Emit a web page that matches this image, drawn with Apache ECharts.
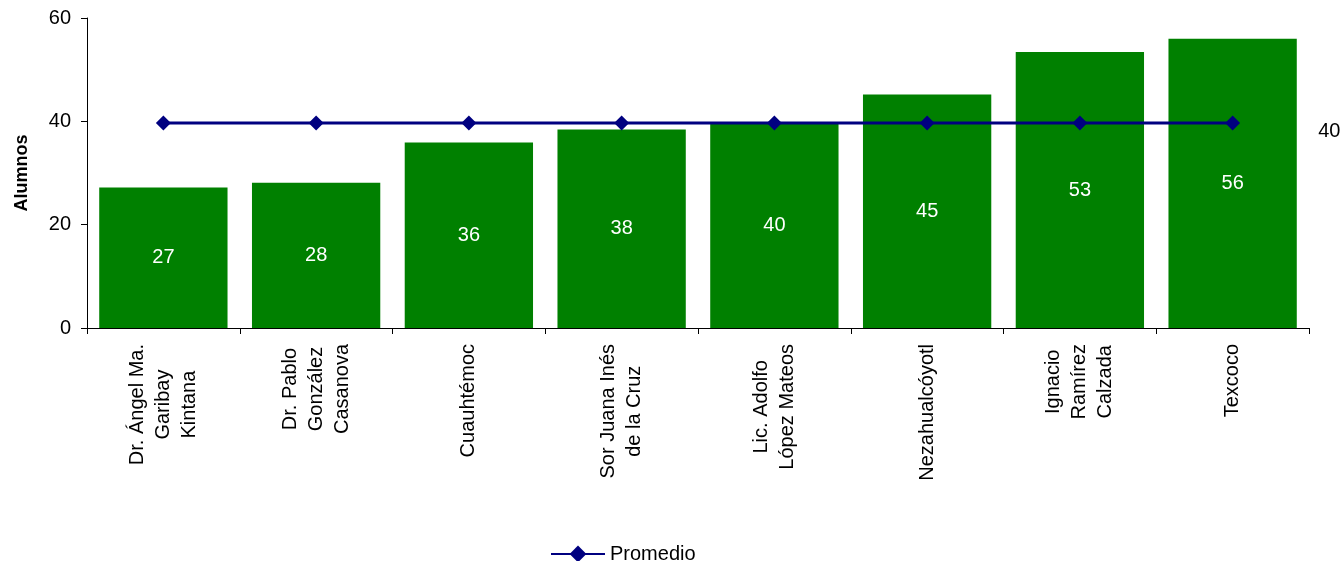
<!DOCTYPE html>
<html>
<head>
<meta charset="utf-8">
<script src="https://cdn.jsdelivr.net/npm/echarts@6/dist/echarts.min.js"></script>
<style>html,body{margin:0;padding:0;background:#fff;}#c{width:1344px;height:561px;}</style>
</head>
<body>
<div id="c"></div>
<script>
const categories = [
  "Dr. Ángel Ma.\nGaribay\nKintana",
  "Dr. Pablo\nGonzález\nCasanova",
  "Cuauhtémoc",
  "Sor Juana Inés\nde la Cruz",
  "Lic. Adolfo\nLópez Mateos",
  "Nezahualcóyotl",
  "Ignacio\nRamírez\nCalzada",
  "Texcoco"
];
const alumnos = [27.2, 28.1, 35.9, 38.4, 39.6, 45.2, 53.4, 56.0];
const promedio = [39.7, 39.7, 39.7, 39.7, 39.7, 39.7, 39.7, 39.7];
const yTicks = { min: 0, max: 60, interval: 20 };

const FONT = "Liberation Sans, Arial, sans-serif";
const chart = echarts.init(document.getElementById('c'));
chart.setOption({
  animation: false,
  backgroundColor: '#fff',
  textStyle: { fontFamily: FONT },
  grid: { left: 87, right: 35, top: 18, bottom: 233, containLabel: false },
  legend: {
    data: ['Promedio'],
    left: 545, top: 539,
    itemWidth: 54, itemHeight: 21,
    itemGap: 4,
    textStyle: { fontSize: 20, color: '#000', fontFamily: FONT }
  },
  xAxis: {
    type: 'category',
    data: categories,
    boundaryGap: true,
    axisLine: { lineStyle: { color: '#000', width: 1 } },
    axisTick: { show: true, length: 6, lineStyle: { color: '#000' } },
    axisLabel: {
      interval: 0,
      rotate: 90,
      margin: 16,
      color: '#000',
      formatter: function (v) { return v.split('\n').map(s => '{c|' + s + '}').join('\n'); },
      rich: { c: { align: 'center', fontSize: 20, lineHeight: 26, color: '#000', fontFamily: FONT } }
    }
  },
  yAxis: {
    type: 'value',
    min: yTicks.min, max: yTicks.max, interval: yTicks.interval,
    name: 'Alumnos',
    nameLocation: 'middle',
    nameRotate: 90,
    nameGap: 56,
    nameTextStyle: { fontSize: 18, fontWeight: 'bold', color: '#000', fontFamily: FONT },
    axisLine: { show: true, lineStyle: { color: '#000', width: 1 } },
    axisTick: { show: true, length: 6, lineStyle: { color: '#000' } },
    axisLabel: { margin: 16, fontSize: 20, color: '#000', fontFamily: FONT },
    splitLine: { show: false }
  },
  series: [
    {
      name: 'Alumnos',
      type: 'bar',
      data: alumnos,
      barCategoryGap: '16%',
      itemStyle: { color: '#008000' },
      label: {
        show: true, position: 'inside', color: '#fff', fontSize: 20, fontFamily: FONT,
        formatter: p => Math.round(p.value)
      }
    },
    {
      name: 'Promedio',
      type: 'line',
      data: promedio.map((v, i) => i === promedio.length - 1
        ? { value: v, label: { show: true, position: 'right', distance: 78, offset: [0, 9], color: '#000', fontSize: 20, fontFamily: FONT, formatter: p => Math.round(p.value) } }
        : v),
      symbol: 'diamond',
      symbolSize: 15,
      lineStyle: { color: '#000080', width: 3 },
      itemStyle: { color: '#000080' },
      label: { show: false },
      z: 5
    }
  ]
});
</script>
</body>
</html>
